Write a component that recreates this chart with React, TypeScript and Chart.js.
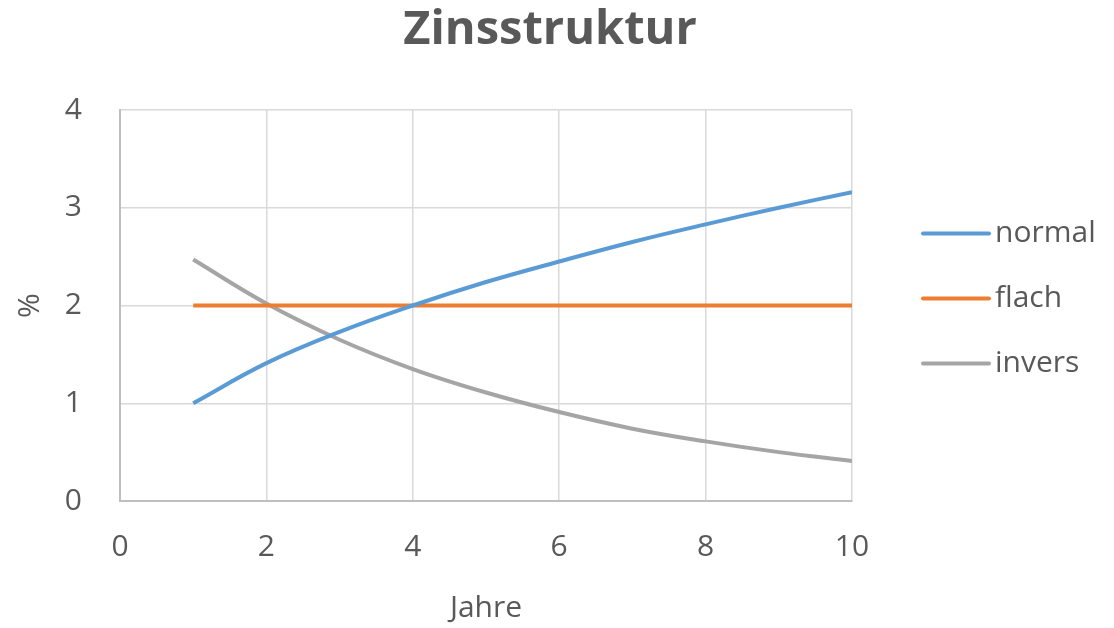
import React, { useEffect, useRef } from "react";
import { Chart, registerables } from "chart.js";

Chart.register(...registerables);

const years = [1, 2, 3, 4, 5, 6, 7, 8, 9, 10];
const normal = [1.0, 1.41, 1.73, 2.0, 2.24, 2.45, 2.65, 2.83, 3.0, 3.16];
const flach = [2, 2, 2, 2, 2, 2, 2, 2, 2, 2];
const invers = [2.47, 2.02, 1.65, 1.35, 1.11, 0.91, 0.74, 0.61, 0.5, 0.41];
const seriesNames = ["normal", "flach", "invers"];
const seriesColors = ["#5B9BD5", "#ED7D31", "#A5A5A5"];
const xTicks = [0, 2, 4, 6, 8, 10];
const yTicks = [0, 1, 2, 3, 4];
const chartTitle = "Zinsstruktur";

const FONT = '"Open Sans", "Noto Sans", sans-serif';
const TEXT = "#595959";

const decorPlugin = {
  id: "decor",
  afterDraw(chart: any) {
    const { ctx, chartArea, width } = chart;
    ctx.save();
    // title
    ctx.font = `bold 47px ${FONT}`;
    ctx.fillStyle = TEXT;
    ctx.textAlign = "center";
    ctx.textBaseline = "middle";
    ctx.fillText(chartTitle, width / 2 - 7, 31);
    // legend
    const x0 = chartArea.right + 71;
    const cy = (chartArea.top + chartArea.bottom) / 2 - 7;
    ctx.font = `30px ${FONT}`;
    ctx.textAlign = "left";
    chart.data.datasets.forEach((ds: any, i: number) => {
      const y = cy + (i - 1) * 65;
      ctx.strokeStyle = ds.borderColor;
      ctx.lineWidth = 4;
      ctx.lineCap = "round";
      ctx.beginPath();
      ctx.moveTo(x0, y);
      ctx.lineTo(x0 + 66, y);
      ctx.stroke();
      ctx.fillStyle = TEXT;
      ctx.fillText(ds.label, x0 + 72, y);
    });
    ctx.restore();
  },
};

export default function App() {
  const ref = useRef<HTMLCanvasElement>(null);
  useEffect(() => {
    if (!ref.current) return;
    const all = [normal, flach, invers];
    const chart = new Chart(ref.current, {
      type: "line",
      data: {
        datasets: all.map((vals, i) => ({
          label: seriesNames[i],
          data: years.map((x, j) => ({ x, y: vals[j] })),
          borderColor: seriesColors[i],
          backgroundColor: seriesColors[i],
          borderWidth: 4,
          pointRadius: 0,
          tension: 0.4,
          fill: false,
        })),
      },
      options: {
        animation: false,
        responsive: false,
        layout: { padding: { left: 0, right: 262, top: 110, bottom: 0 } },
        plugins: {
          legend: { display: false },
          tooltip: { enabled: false },
          title: { display: false },
        },
        scales: {
          x: {
            type: "linear",
            min: 0,
            max: 10,
            afterBuildTicks: (s: any) => {
              s.ticks = xTicks.map((v) => ({ value: v }));
            },
            afterFit: (s: any) => {
              s.height = 127;
            },
            grid: { color: "#D9D9D9", lineWidth: 1.5, drawTicks: false },
            border: { color: "#BFBFBF", width: 2 },
            ticks: { color: TEXT, font: { family: FONT, size: 30 }, padding: 28, maxRotation: 0 },
            title: {
              display: true,
              text: "Jahre",
              color: TEXT,
              font: { family: FONT, size: 30 },
              padding: { top: 0, bottom: 2 },
            },
          },
          y: {
            type: "linear",
            min: 0,
            max: 4,
            afterBuildTicks: (s: any) => {
              s.ticks = yTicks.map((v) => ({ value: v }));
            },
            afterFit: (s: any) => {
              s.width = 120;
            },
            grid: { color: "#D9D9D9", lineWidth: 1.5, drawTicks: false },
            border: { color: "#BFBFBF", width: 2 },
            ticks: { color: TEXT, font: { family: FONT, size: 30 }, padding: 38 },
            title: {
              display: true,
              text: "%",
              color: TEXT,
              font: { family: FONT, size: 30 },
              padding: { top: 12, bottom: 0 },
            },
          },
        },
      },
      plugins: [decorPlugin],
    } as any);
    return () => chart.destroy();
  }, []);
  return (
    <div style={{ position: "absolute", left: 0, top: 0, width: 1114, height: 628, background: "#fff" }}>
      <canvas ref={ref} width={1114} height={628} style={{ display: "block" }} />
    </div>
  );
}
